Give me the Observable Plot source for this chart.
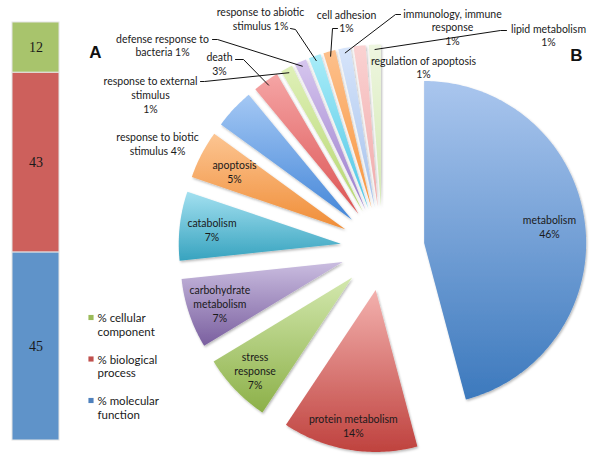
<!DOCTYPE html>
<html><head><meta charset="utf-8">
<script src="https://cdn.jsdelivr.net/npm/d3@7"></script>
<script src="https://cdn.jsdelivr.net/npm/@observablehq/plot@0.6"></script>
<style>
body{margin:0;background:#fff;}
#wrap{position:relative;width:600px;height:459px;overflow:hidden;background:#fff;}
#wrap > svg{position:absolute;left:0;top:0;}
</style></head><body><div id="wrap"></div>
<script>
// ---------- Panel A data ----------
const goCategories = ["% molecular function", "% biological process", "% cellular component"];
const goValues = [45, 43, 12];
const goColors = ["#5f93c9", "#cd605c", "#a8c46c"];
const goLegendText = ["% molecular\nfunction", "% biological\nprocess", "% cellular\ncomponent"];
const goLegendColors = ["#4f81bd", "#c0504d", "#9bbb59"];

// ---------- Panel B data (percent; labels show rounded values) ----------
const processNames = ["metabolism", "protein metabolism", "stress response", "carbohydrate metabolism",
  "catabolism", "apoptosis", "response to biotic stimulus", "death", "response to external stimulus",
  "defense response to bacteria", "response to abiotic stimulus", "cell adhesion",
  "immunology, immune response", "regulation of apoptosis", "lipid metabolism"];
const processValues = [45.9, 13.5, 7, 7, 6.9, 4.8, 4, 2.6, 1.2, 1.2, 1.2, 1.2, 1.2, 1.2, 1.2];
const gradTop = ["#aac6ee", "#f3b1ae", "#d3e8ae", "#cabde0", "#a3e0f0", "#fcc592", "#a4c8f4", "#f5a5a5",
  "#dff0b8", "#d6c6ee", "#a8ecf8", "#fdc08c", "#d6e4fa", "#fad2d2", "#eef6e0"];
const gradBottom = ["#3c79bd", "#bf423e", "#8cb048", "#7a5f9f", "#37a3bf", "#f08d37", "#4486d8", "#dc5454",
  "#b5d66e", "#9a7ccc", "#4ec6e6", "#f8963e", "#a6c2ec", "#f0aaaa", "#d2e8b0"];
const labelWrap = ["metabolism\n", "protein metabolism\n", "stress\nresponse\n", "carbohydrate\nmetabolism\n",
  "catabolism\n", "apoptosis\n", "response to biotic\nstimulus ", "death\n", "response to external\nstimulus\n",
  "defense response to\nbacteria ", "response to abiotic\nstimulus ", "cell adhesion\n",
  "immunology, immune\nresponse\n", "regulation of apoptosis\n", "lipid metabolism\n"];

// ---------- layout ----------
const W = 600, H = 459;
const CX = 382, CY = 248, R = 162, EXPLODE = 42;
const FONT = "Lato, 'Open Sans', sans-serif";
const innerLayout = {"metabolism": 0.78, "protein metabolism": 0.85, "stress response": 0.83,
  "carbohydrate metabolism": 0.8, "catabolism": 0.8, "apoptosis": 0.77};
const outsideLayout = {
  "response to biotic stimulus": {x: 157, y: 143, leader: null},
  "death": {x: 219, y: 63, leader: [[235, 59], [243, 59]]},
  "response to external stimulus": {x: 150, y: 94, leader: [[200, 81], [204, 81]]},
  "defense response to bacteria": {x: 162, y: 44.5, leader: [[212, 39], [217, 39]]},
  "response to abiotic stimulus": {x: 260, y: 18, leader: [[290, 28], [295, 29]]},
  "cell adhesion": {x: 346, y: 20.5, leader: [[337, 28], [332, 28]]},
  "immunology, immune response": {x: 452, y: 26.5, leader: [[400, 14], [395, 14]]},
  "regulation of apoptosis": {x: 423, y: 66.5, leader: null},
  "lipid metabolism": {x: 548, y: 34.5, leader: [[506, 30], [500, 30]]}
};

// ---------- Panel A chart ----------
const goData = goCategories.map((c, i) => ({cat: c, value: goValues[i], color: goColors[i]}));
const barPlot = Plot.plot({
  width: 75, height: H, marginTop: 22, marginBottom: 19, marginLeft: 0, marginRight: 0,
  x: {domain: ["GO"], range: [12, 59], padding: 0, axis: null},
  y: {domain: [0, 100], axis: null},
  color: {type: "identity"},
  marks: [
    Plot.barY(goData, Plot.stackY({x: () => "GO", y: "value", fill: "color", stroke: "#e4e4e4", strokeWidth: 1})),
    Plot.text(goData, Plot.stackY({x: () => "GO", y: "value", text: d => String(d.value),
      fontFamily: "'Liberation Serif', 'DejaVu Serif', serif", fontSize: 14, fill: "#1a1a1a"}))
  ]
});

// ---------- Panel B geometry ----------
const total = d3.sum(processValues);
let acc = 0;
const slices = processNames.map((name, i) => {
  const a0 = acc / total * 2 * Math.PI;
  acc += processValues[i];
  const a1 = acc / total * 2 * Math.PI;
  const m = (a0 + a1) / 2;
  return {name, i, value: processValues[i], a0, a1, m,
    tx: CX + EXPLODE * Math.sin(m), ty: CY - EXPLODE * Math.cos(m)};
});
const pt = (s, a, r) => [s.tx + r * Math.sin(a), s.ty - r * Math.cos(a)];
const slicePts = slices.flatMap(s => {
  const n = Math.max(4, Math.ceil((s.a1 - s.a0) / 0.015));
  const grad = `url(#pg${s.i})`;
  const pts = [{slice: s.name, grad, x: s.tx, y: s.ty}];
  for (let k = 0; k <= n; k++) {
    const [x, y] = pt(s, s.a0 + (s.a1 - s.a0) * k / n, R);
    pts.push({slice: s.name, grad, x, y});
  }
  return pts;
});
const labelOf = s => labelWrap[s.i] + Math.round(s.value) + "%";
const innerLabels = slices.filter(s => innerLayout[s.name]).map(s => {
  const [x, y] = pt(s, s.m, innerLayout[s.name] * R);
  return {x, y, text: labelOf(s)};
});
const outerLabels = slices.filter(s => outsideLayout[s.name]).map(s => ({
  x: outsideLayout[s.name].x, y: outsideLayout[s.name].y, text: labelOf(s)}));
const leaders = slices.filter(s => outsideLayout[s.name] && outsideLayout[s.name].leader).flatMap(s => {
  const [p0, p1] = outsideLayout[s.name].leader;
  const [ex, ey] = pt(s, s.m, 0.97 * R);
  return [{k: s.name, x: p0[0], y: p0[1]}, {k: s.name, x: p1[0], y: p1[1]}, {k: s.name, x: ex, y: ey}];
});
const legendData = goLegendText.map((t, i) => ({text: t, color: goLegendColors[i], i})).reverse()
  .map((d, j) => ({...d, y: 317 + j * 41.5}));

const piePlot = Plot.plot({
  width: W, height: H, margin: 0,
  x: {domain: [0, W], range: [0, W], axis: null},
  y: {domain: [0, H], range: [0, H], axis: null},
  color: {type: "identity"},
  marks: [
    Plot.line(slicePts, {x: "x", y: "y", z: "slice", fill: "grad", stroke: "none"}),
    Plot.line(leaders, {x: "x", y: "y", z: "k", stroke: "#111", strokeWidth: 1}),
    Plot.text(innerLabels, {x: "x", y: "y", text: "text", fontFamily: FONT, fontSize: 10.5, lineHeight: 1.33, fill: "#1a1a1a"}),
    Plot.text(outerLabels, {x: "x", y: "y", text: "text", fontFamily: FONT, fontSize: 10.5, lineHeight: 1.33, fill: "#1a1a1a"}),
    Plot.dot(legendData, {x: 90.5, y: "y", symbol: "square", r: 2.9, fill: "color", stroke: "none"}),
    Plot.text(legendData, {x: 97, y: d => d.y + 7, text: "text", textAnchor: "start", fontFamily: FONT, fontSize: 11.5, lineHeight: 1.2, fill: "#1a1a1a"}),
    Plot.text(["A", "B"], {x: [95, 576], y: [52, 55], text: d => d, fontFamily: "'Liberation Sans', Arial, sans-serif", fontWeight: "bold", fontSize: 17, fill: "#111"})
  ]
});

// gradient definitions + soft shadow for the slices
const svgSel = d3.select(piePlot);
const defs = svgSel.append("defs");
slices.forEach(s => {
  const g = defs.append("linearGradient").attr("id", `pg${s.i}`).attr("x1", 0).attr("y1", 0).attr("x2", 0).attr("y2", 1);
  g.append("stop").attr("offset", "0%").attr("stop-color", gradTop[s.i]);
  g.append("stop").attr("offset", "100%").attr("stop-color", gradBottom[s.i]);
});
defs.append("filter").attr("id", "pshadow").attr("x", "-10%").attr("y", "-10%").attr("width", "120%").attr("height", "120%")
  .append("feDropShadow").attr("dx", 1).attr("dy", 1.5).attr("stdDeviation", 1.2)
  .attr("flood-color", "#000").attr("flood-opacity", 0.28);
const slicePath = Array.from(piePlot.querySelectorAll("path")).find(p => (p.getAttribute("fill") || "").startsWith("url(#pg"));
if (slicePath) slicePath.parentNode.setAttribute("filter", "url(#pshadow)");

const wrap = document.getElementById("wrap");
wrap.appendChild(piePlot);
wrap.appendChild(barPlot);
</script></body></html>
